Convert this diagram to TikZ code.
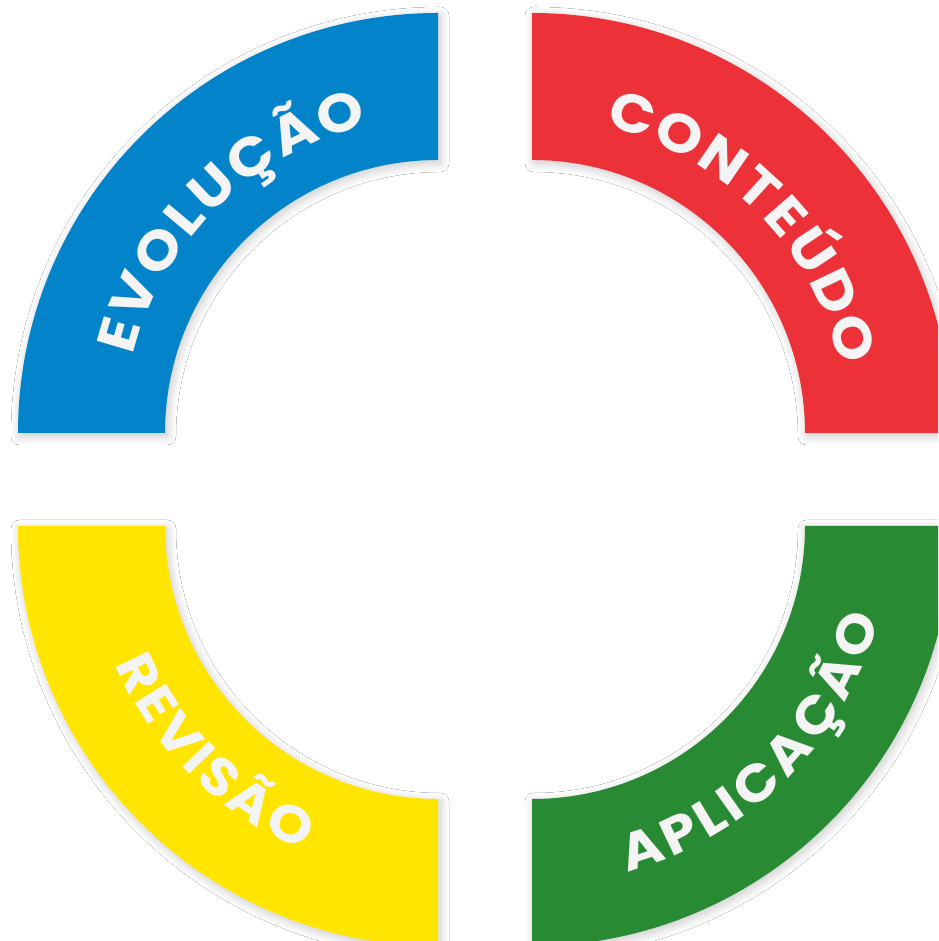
\documentclass[tikz,border=0pt]{standalone}
\usepackage{fontspec}
\newfontfamily\lblfont{Poppins}[FakeStretch=1.1]
\usetikzlibrary{decorations.text,shadows.blur}
\definecolor{cblue}{RGB}{3,131,201}
\definecolor{cred}{RGB}{236,50,56}
\definecolor{cyellow}{RGB}{255,229,0}
\definecolor{cgreen}{RGB}{41,138,52}
\definecolor{ctext}{RGB}{244,244,244}
\newcommand{\ringseg}[4]{% center, start, end, color
  \fill[#4,segshadow] ([shift={(#2:420)}]#1) arc (#2:#3:420) -- ([shift={(#3:273)}]#1) arc (#3:#2:273) -- cycle;}
\newcommand{\arclabel}[7]{% center, start, end, text, size, raise, kern
  \path[decorate,decoration={text along path,text align=center,raise=#6,
     text color=ctext,text={|\lblfont\bfseries\fontsize{#5}{#5}\selectfont\kern#7|#4}}]
     ([shift={(#2:346)}]#1) arc (#2:#3:346);}
\begin{document}
\begin{tikzpicture}[x=1pt,y=1pt,
  segshadow/.style={blur shadow={shadow xshift=2pt,shadow yshift=-3pt,shadow blur radius=9pt,shadow blur steps=14,shadow opacity=22}}]
\useasboundingbox (0,0) rectangle (938,941);
\fill[white] (0,0) rectangle (938,941);
\clip (0,0) rectangle (938,941);
\coordinate (cb) at (438,508);
\coordinate (cr) at (532,508);
\coordinate (cy) at (438,415);
\coordinate (cg) at (532,415);
\ringseg{cb}{180}{90}{cblue}
\ringseg{cr}{90}{0}{cred}
\ringseg{cy}{180}{270}{cyellow}
\ringseg{cg}{270}{360}{cgreen}
\arclabel{cb}{180}{90}{EVOLUÇÃO}{54}{-31pt}{7pt}
\arclabel{cr}{90}{0}{CONTEÚDO}{54}{-31pt}{7pt}
\arclabel{cy}{180}{270}{REVISÃO}{52}{-5pt}{3pt}
\arclabel{cg}{270}{360}{APLICAÇÃO}{52}{-13pt}{3pt}
\end{tikzpicture}
\end{document}
